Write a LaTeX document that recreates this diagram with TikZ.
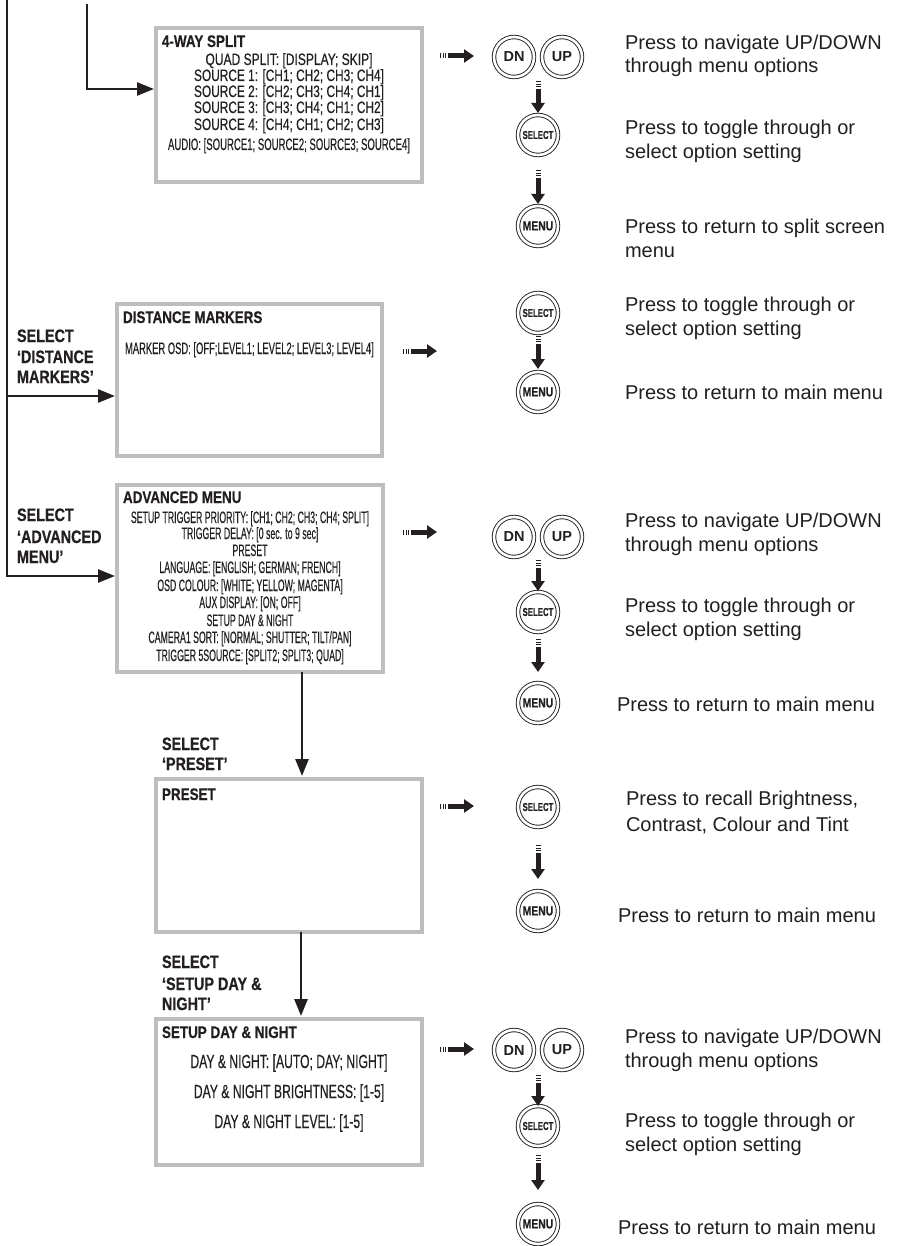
\documentclass[tikz,border=0pt]{standalone}
\usepackage{fontspec}
\usepackage{graphicx}
\setmainfont{Liberation Sans}
\newfontfamily\condfont[FakeStretch=0.8, BoldFeatures={FakeBold=0.5}]{Liberation Sans}
\newfontfamily\bodyfont[FakeBold=0.45]{Liberation Sans}
\usetikzlibrary{arrows.meta}
\definecolor{ink}{HTML}{231F20}
\definecolor{boxgray}{HTML}{BCBEC0}
\newcommand\sq[2]{\scalebox{#1}[1]{#2}}
\begin{document}
\begin{tikzpicture}[x=1pt,y=-1pt,
  every node/.style={inner sep=0pt, outer sep=0pt, text=ink},
  menubox/.style={draw=boxgray, line width=3.8pt, fill=white, anchor=north west},
  flow/.style={draw=ink, line width=2.6pt, -{Triangle[length=17pt,width=13pt]}},
  hdash/.style={draw=ink, line width=5pt,
    dash pattern=on 1.2pt off 1.4pt on 1.2pt off 1.4pt on 1.2pt off 1.4pt on 40pt,
    -{Triangle[length=10pt,width=13pt]}},
  vdash/.style={hdash},
  hint/.style={anchor=base west, font=\fontsize{20}{24}\selectfont},
  boxtitle/.style={anchor=base west, font=\condfont\bfseries\fontsize{16.8}{18}\selectfont},
  boxline/.style={anchor=base, font=\bodyfont\fontsize{16.5}{17}\selectfont},
  bigline/.style={anchor=base, font=\bodyfont\fontsize{19}{20}\selectfont},
  sellabel/.style={anchor=base west, font=\condfont\bfseries\fontsize{18}{20}\selectfont},
  button/.style={circle, draw=ink, line width=0.9pt, double=white, double distance=2.6pt,
    fill=white, minimum size=40pt},
  btnfont/.style={font=\bfseries\fontsize{14.5}{15}\selectfont},
  selfont/.style={font=\condfont\bfseries\fontsize{11.5}{12}\selectfont},
  menfont/.style={font=\condfont\bfseries\fontsize{13}{13}\selectfont}
]
\useasboundingbox (0,0) rectangle (903,1246);
\fill[white] (0,0) rectangle (903,1246);

% ---------------- menu boxes ----------------
\node[menubox, minimum width=266pt, minimum height=154pt] (b1) at (156,28) {};
\node[menubox, minimum width=265pt, minimum height=152pt] (b2) at (117,304) {};
\node[menubox, minimum width=266pt, minimum height=187pt] (b3) at (117,485) {};
\node[menubox, minimum width=266pt, minimum height=153pt] (b4) at (156,779) {};
\node[menubox, minimum width=266pt, minimum height=146pt] (b5) at (156,1019) {};

% ---------------- flow connectors ----------------
\coordinate (top1) at (7,0);
\coordinate (top2) at (87,4);
\coordinate (knee1) at (87,89);
\coordinate (br2) at (7,396);
\coordinate (knee3) at (7,576);
\coordinate (d3) at (302,672);
\coordinate (d4) at (301,932);
\draw[flow, shorten >=2pt] (top2) -- (knee1) -- (knee1 -| b1.west);
\draw[flow, shorten >=2pt] (top1) -- (knee3) -- (knee3 -| b3.west);
\draw[flow, shorten >=2pt] (br2) -- (br2 -| b2.west);
\draw[flow, shorten >=3pt] (d3) -- (d3 |- b4.north);
\draw[flow, shorten >=3pt] (d4) -- (d4 |- b5.north);

% ---------------- branch labels ----------------
\node[sellabel] (l2a) at (17,342) {SELECT};
\node[sellabel] (l2b) at (17,363) {‘DISTANCE};
\node[sellabel] (l2c) at (17,383) {MARKERS’};
\node[sellabel] (l3a) at (17,521) {SELECT};
\node[sellabel] (l3b) at (17,543) {‘ADVANCED};
\node[sellabel] (l3c) at (17,563) {MENU’};
\node[sellabel] (l4a) at (162,750) {SELECT};
\node[sellabel] (l4b) at (162,770) {‘PRESET’};
\node[sellabel] (l5a) at (162,968) {SELECT};
\node[sellabel] (l5b) at (162,990) {‘SETUP DAY \&};
\node[sellabel] (l5c) at (162,1010) {NIGHT’};

% ---------------- box contents ----------------
\node[boxtitle] (t1) at (162,47) {4-WAY SPLIT};
\node[boxline] (b1l1) at (289,65) {\sq{0.73}{QUAD SPLIT: [DISPLAY; SKIP]}};
\node[boxline] (b1l2) at (289,81) {\sq{0.72}{SOURCE 1: [CH1; CH2; CH3; CH4]}};
\node[boxline] (b1l3) at (289,97) {\sq{0.72}{SOURCE 2: [CH2; CH3; CH4; CH1]}};
\node[boxline] (b1l4) at (289,113) {\sq{0.72}{SOURCE 3: [CH3; CH4; CH1; CH2]}};
\node[boxline] (b1l5) at (289,130) {\sq{0.72}{SOURCE 4: [CH4; CH1; CH2; CH3]}};
\node[boxline] (b1l6) at (289,150) {\sq{0.58}{AUDIO: [SOURCE1; SOURCE2; SOURCE3; SOURCE4]}};

\node[boxtitle] (t2) at (123,323) {DISTANCE MARKERS};
\node[boxline, anchor=base west] (b2l1) at (125,354) {\sq{0.57}{MARKER OSD: [OFF;LEVEL1; LEVEL2; LEVEL3; LEVEL4]}};

\node[boxtitle] (t3) at (123,503) {ADVANCED MENU};
\node[boxline] (b3l1) at (250,523) {\sq{0.53}{SETUP TRIGGER PRIORITY: [CH1; CH2; CH3; CH4; SPLIT]}};
\node[boxline] (b3l2) at (250,539) {\sq{0.53}{TRIGGER DELAY: [0 sec. to 9 sec]}};
\node[boxline] (b3l3) at (250,556) {\sq{0.53}{PRESET}};
\node[boxline] (b3l4) at (250,573) {\sq{0.53}{LANGUAGE: [ENGLISH; GERMAN; FRENCH]}};
\node[boxline] (b3l5) at (250,591) {\sq{0.53}{OSD COLOUR: [WHITE; YELLOW; MAGENTA]}};
\node[boxline] (b3l6) at (250,608) {\sq{0.53}{AUX DISPLAY: [ON; OFF]}};
\node[boxline] (b3l7) at (250,626) {\sq{0.53}{SETUP DAY \& NIGHT}};
\node[boxline] (b3l8) at (250,643) {\sq{0.53}{CAMERA1 SORT: [NORMAL; SHUTTER; TILT/PAN]}};
\node[boxline] (b3l9) at (250,661) {\sq{0.53}{TRIGGER 5SOURCE: [SPLIT2; SPLIT3; QUAD]}};

\node[boxtitle] (t4) at (162,800) {PRESET};

\node[boxtitle] (t5) at (162,1038) {SETUP DAY \& NIGHT};
\node[bigline] (b5l1) at (289,1068) {\sq{0.64}{DAY \& NIGHT: [AUTO; DAY; NIGHT]}};
\node[bigline] (b5l2) at (289,1098) {\sq{0.64}{DAY \& NIGHT BRIGHTNESS: [1-5]}};
\node[bigline] (b5l3) at (289,1128) {\sq{0.64}{DAY \& NIGHT LEVEL: [1-5]}};

% ---------------- section 1: 4-way split ----------------
\coordinate (h1a) at (440,56); \coordinate (h1b) at (474,56);
\draw[hdash] (h1a) -- (h1b);
\node[button, btnfont] (dn1) at (514,57) {DN};
\node[button, btnfont] (up1) at (562,57) {UP};
\node[button, selfont] (sel1) at (538,135) {\sq{0.85}{SELECT}};
\node[button, menfont] (men1) at (538,226) {MENU};
\coordinate (v1a) at (538,81); \coordinate (v1b) at (538,113);
\coordinate (v1c) at (538,170); \coordinate (v1d) at (538,204);
\draw[vdash] (v1a) -- (v1b);
\draw[vdash] (v1c) -- (v1d);
\node[hint] (r1a) at (625,50) {Press to navigate UP/DOWN};
\node[hint] (r1b) at (625,73) {through menu options};
\node[hint] (r1c) at (625,135) {Press to toggle through or};
\node[hint] (r1d) at (625,159) {select option setting};
\node[hint] (r1e) at (625,234) {Press to return to split screen};
\node[hint] (r1f) at (625,258) {menu};

% ---------------- section 2: distance markers ----------------
\coordinate (h2a) at (403,351); \coordinate (h2b) at (437,351);
\draw[hdash] (h2a) -- (h2b);
\node[button, selfont] (sel2) at (538,313) {\sq{0.85}{SELECT}};
\node[button, menfont] (men2) at (538,392) {MENU};
\coordinate (v2a) at (538,336); \coordinate (v2b) at (538,369);
\draw[vdash] (v2a) -- (v2b);
\node[hint] (r2a) at (625,311) {Press to toggle through or};
\node[hint] (r2b) at (625,335) {select option setting};
\node[hint] (r2c) at (625,399) {Press to return to main menu};

% ---------------- section 3: advanced menu ----------------
\coordinate (h3a) at (403,532); \coordinate (h3b) at (437,532);
\draw[hdash] (h3a) -- (h3b);
\node[button, btnfont] (dn3) at (514,537) {DN};
\node[button, btnfont] (up3) at (562,537) {UP};
\node[button, selfont] (sel3) at (538,612) {\sq{0.85}{SELECT}};
\node[button, menfont] (men3) at (538,703) {MENU};
\coordinate (v3a) at (538,560); \coordinate (v3b) at (538,591);
\coordinate (v3c) at (538,639); \coordinate (v3d) at (538,672);
\draw[vdash] (v3a) -- (v3b);
\draw[vdash] (v3c) -- (v3d);
\node[hint] (r3a) at (625,527) {Press to navigate UP/DOWN};
\node[hint] (r3b) at (625,551) {through menu options};
\node[hint] (r3c) at (625,612) {Press to toggle through or};
\node[hint] (r3d) at (625,636) {select option setting};
\node[hint] (r3e) at (617,711) {Press to return to main menu};

% ---------------- section 4: preset ----------------
\coordinate (h4a) at (440,806); \coordinate (h4b) at (474,806);
\draw[hdash] (h4a) -- (h4b);
\node[button, selfont] (sel4) at (538,807) {\sq{0.85}{SELECT}};
\node[button, menfont] (men4) at (538,911) {MENU};
\coordinate (v4a) at (538,845); \coordinate (v4b) at (538,879);
\draw[vdash] (v4a) -- (v4b);
\node[hint] (r4a) at (626,805) {Press to recall Brightness,};
\node[hint] (r4b) at (626,831) {Contrast, Colour and Tint};
\node[hint] (r4c) at (618,922) {Press to return to main menu};

% ---------------- section 5: setup day & night ----------------
\coordinate (h5a) at (440,1049); \coordinate (h5b) at (474,1049);
\draw[hdash] (h5a) -- (h5b);
\node[button, btnfont] (dn5) at (514,1050) {DN};
\node[button, btnfont] (up5) at (562,1050) {UP};
\node[button, selfont] (sel5) at (538,1126) {\sq{0.85}{SELECT}};
\node[button, menfont] (men5) at (538,1224) {MENU};
\coordinate (v5a) at (538,1075); \coordinate (v5b) at (538,1106);
\coordinate (v5c) at (538,1155); \coordinate (v5d) at (538,1190);
\draw[vdash] (v5a) -- (v5b);
\draw[vdash] (v5c) -- (v5d);
\node[hint] (r5a) at (625,1043) {Press to navigate UP/DOWN};
\node[hint] (r5b) at (625,1067) {through menu options};
\node[hint] (r5c) at (625,1127) {Press to toggle through or};
\node[hint] (r5d) at (625,1151) {select option setting};
\node[hint] (r5e) at (618,1234) {Press to return to main menu};
\end{tikzpicture}
\end{document}
